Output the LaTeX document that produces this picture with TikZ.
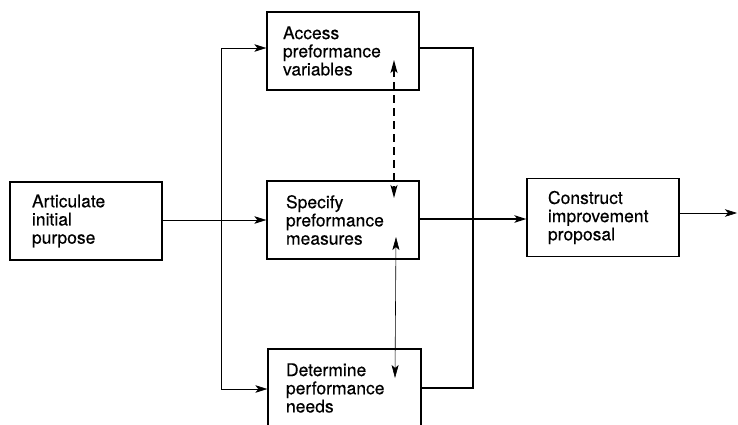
\documentclass[tikz,border=0pt]{standalone}
\usepackage{fontspec}
\newfontfamily\labelfont[FakeBold=0.35]{TeX Gyre Heros}
\usetikzlibrary{arrows.meta}
\begin{document}
\begin{tikzpicture}[x=1pt,y=-1pt,
  box/.style={draw, line width=1.3pt, minimum height=78pt, align=left,
    font=\labelfont\fontsize{17.5}{18.2}\selectfont, inner ysep=0pt, anchor=center},
  thinline/.style={line width=0.6pt},
  heavyline/.style={line width=1.3pt},
  tip/.style={-{Stealth[length=12pt,width=7.5pt,inset=3pt]}},
  tips/.style={{Stealth[length=13pt,width=7pt,inset=3pt]}-{Stealth[length=13pt,width=7pt,inset=3pt]}}
]
\useasboundingbox (0,0) rectangle (738,424);
\clip (0,0) rectangle (738,424);

% process boxes
\node[box, inner xsep=22pt, text width=108pt] (art) at (86,221) {Articulate\\initial\\purpose};
\node[box, inner xsep=16pt, text width=120pt] (acc) at (343,51) {Access\\preformance\\variables};
\node[box, inner xsep=19pt, text width=114pt] (spec) at (343,220) {Specify\\preformance\\measures};
\node[box, inner xsep=18pt, text width=117pt] (det) at (344.5,388) {Determine\\performance\\needs};
\node[box, inner xsep=21pt, text width=110pt] (con) at (603,217.5) {Construct\\improvement\\proposal};

% junctions and free ends
\coordinate (split) at (221,220);
\coordinate (merge) at (473,219);
\coordinate (out) at (737,213);
\coordinate (da) at (394,60);
\coordinate (db) at (394,198);
\coordinate (ta) at (396,237);
\coordinate (tb) at (395,378);

% inputs fanned out from the first step
\draw[thinline] (art.east |- split) -- (split);
\draw[thinline, tip] (split) |- ([yshift=3pt]acc.west);
\draw[thinline, tip] (split) -- (spec.west |- split);
\draw[thinline, tip] (split) |- ([yshift=-1pt]det.west);

% outputs gathered into the proposal
\draw[heavyline] ([yshift=3pt]acc.east) -| (merge);
\draw[heavyline] (det.east) -| (merge);
\draw[heavyline, tip] (spec.east |- merge) -- (merge) -- (con.west |- merge);
\draw[thinline, tip] ([yshift=4.5pt]con.east) -- (out);

% mutual influences between the three middle steps
\draw[heavyline, tips, dash pattern=on 8pt off 5pt] (da) -- (db);
\draw[thinline, tips] (ta) -- (tb);
\end{tikzpicture}
\end{document}
